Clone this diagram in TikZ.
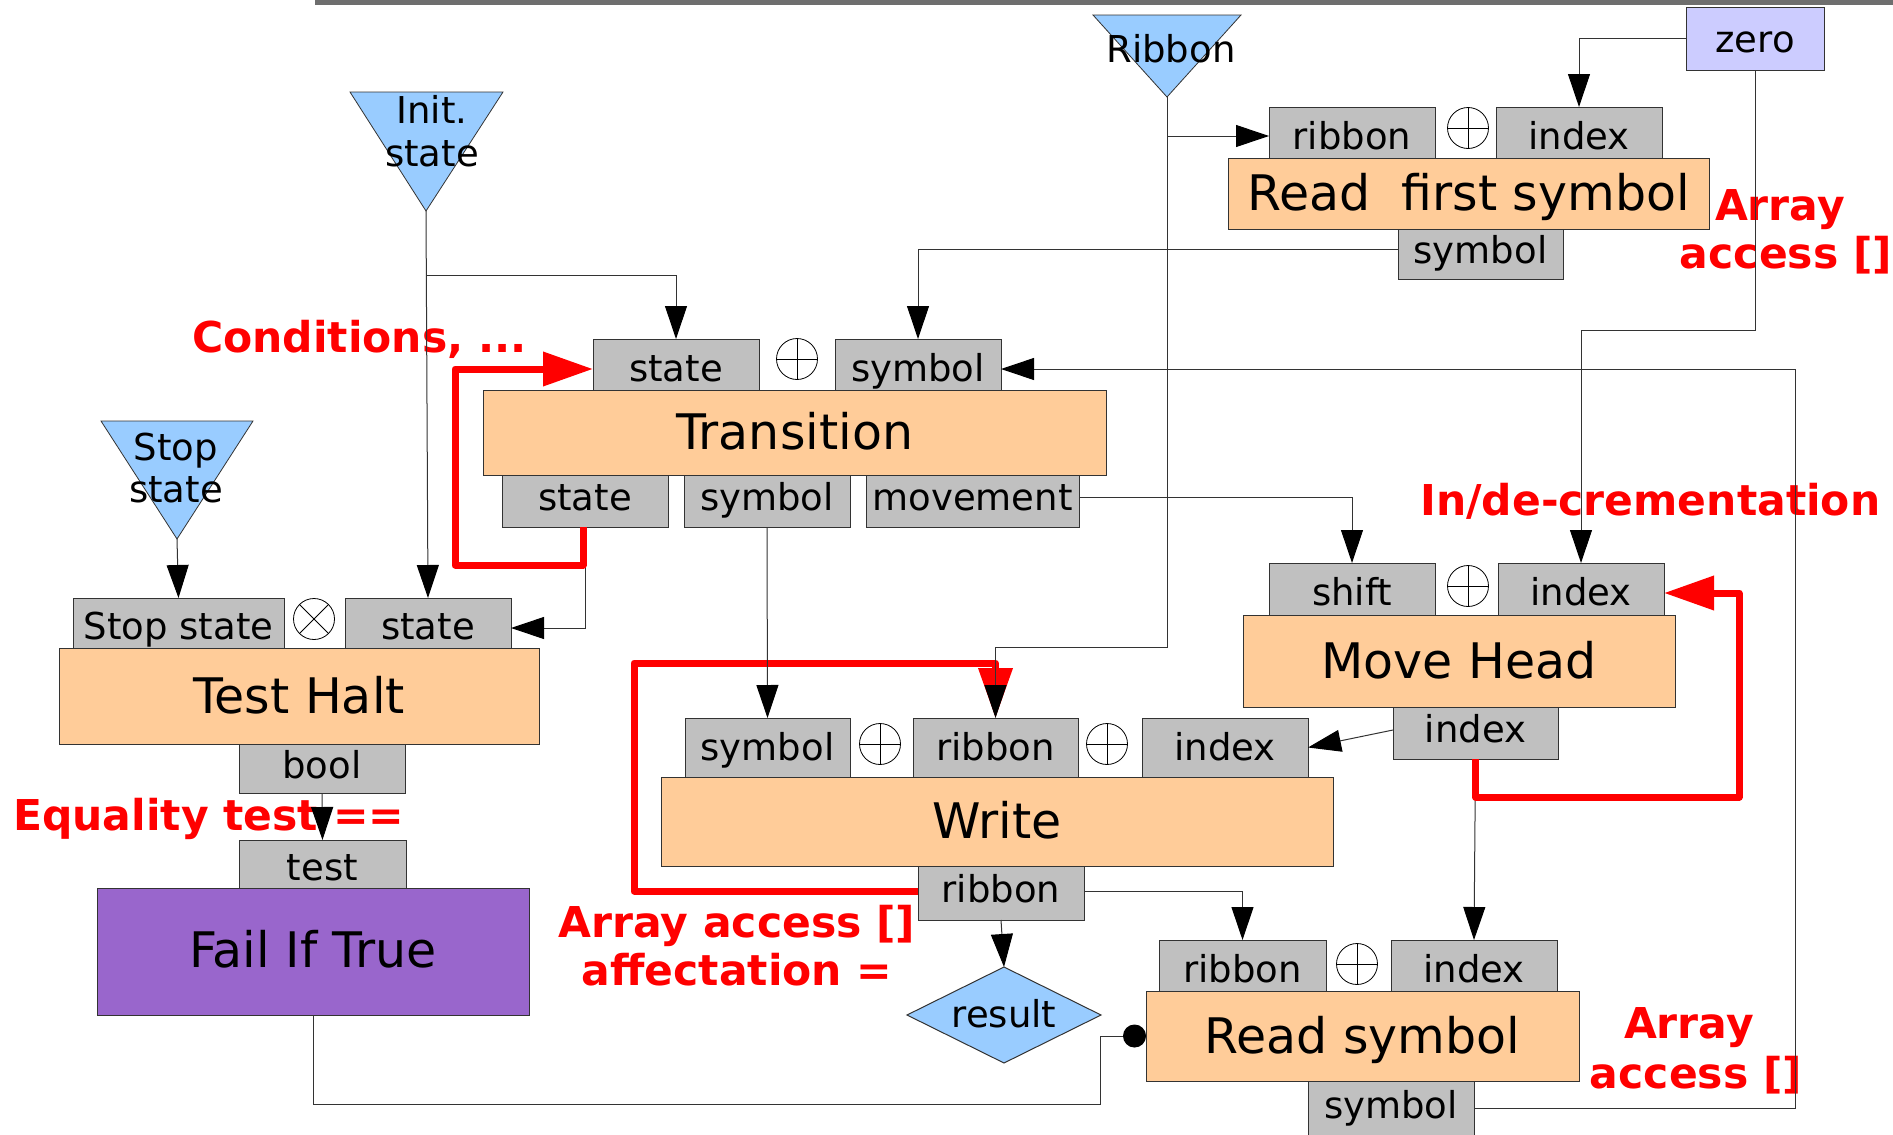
\documentclass[tikz,border=0pt]{standalone}
\usepackage{fontspec}
\setmainfont{DejaVu Sans}
\usetikzlibrary{arrows.meta}
\definecolor{portgray}{HTML}{C0C0C0}
\definecolor{boxorange}{HTML}{FFCC99}
\definecolor{triblue}{HTML}{99CCFF}
\definecolor{zerocol}{HTML}{CCCCFF}
\definecolor{failcol}{HTML}{9966CC}
\definecolor{linecol}{HTML}{333333}
\definecolor{barcol}{HTML}{6E6E6E}
\newcommand\portfont{\fontsize{37}{44}\selectfont}
\newcommand\titlefont{\fontsize{49}{56}\selectfont}
\newcommand\notefont{\fontsize{42.5}{48}\selectfont\bfseries}
\newcommand\mkn[7]{\node[#1, minimum width={#5-#3}, minimum height={#6-#4}] (#2) at ({(#3+#5)/2},{(#4+#6)/2}) {#7};}
\newcommand\opplus[2]{\draw[opc] (#1,#2) circle (20.5pt); \draw[line width=0.8pt] ({#1-20.5},#2) -- ({#1+20.5},#2) (#1,{#2-20.5}) -- (#1,{#2+20.5});}
\newcommand\optimes[2]{\draw[opc] (#1,#2) circle (20.5pt); \draw[line width=0.8pt] ({#1-14.5},{#2-14.5}) -- ({#1+14.5},{#2+14.5}) ({#1-14.5},{#2+14.5}) -- ({#1+14.5},{#2-14.5});}
\begin{document}
\begin{tikzpicture}[x=1pt,y=-1pt,
  port/.style={draw=linecol, line width=1pt, fill=portgray, inner sep=0pt, outer sep=0pt, text depth=0pt, font=\portfont},
  tport/.style={port, text height=33pt},
  wport/.style={port, text height=25pt},
  bport/.style={port, text height=19pt},
  zerobox/.style={port, fill=zerocol, text height=27pt},
  func/.style={draw=linecol, line width=1pt, fill=boxorange, inner sep=0pt, outer sep=0pt, text height=34pt, text depth=0pt, font=\titlefont},
  failbox/.style={func, fill=failcol, text height=31pt},
  conn/.style={draw=linecol, line width=1pt, -{Triangle[length=33pt,width=22pt,black]}},
  dotconn/.style={draw=linecol, line width=1pt, -{Circle[length=23pt,black]}},
  redloop/.style={draw=red, line width=7pt, line join=round, -{Triangle[length=50pt,width=33pt]}},
  note/.style={text=red, font=\notefont, inner sep=0pt},
  tri/.style={draw=linecol, line width=0.8pt, fill=triblue},
  ttext/.style={font=\portfont, inner sep=0pt, anchor=base},
  opc/.style={draw=black, line width=0.8pt, fill=white},
]
\useasboundingbox (0,0) rectangle (1893,1135);
\fill[barcol] (315,0) rectangle (1893,5);

% source triangles
\draw[tri] (350,92) -- (503,92) -- (426,211) -- cycle;
\coordinate (initA) at (426,211);
\node[ttext] (initT1) at (432,123) {Init.};
\node[ttext] (initT2) at (432,166) {state};
\draw[tri] (101,421) -- (253,421) -- (177,539) -- cycle;
\coordinate (stopA) at (177,539);
\node[ttext] (stopT1) at (176,460) {Stop};
\node[ttext] (stopT2) at (176,502) {state};
\draw[tri] (1093,15) -- (1241,15) -- (1167,97) -- cycle;
\coordinate (ribA) at (1167,97);
\node[ttext] (ribT) at (1171,62) {Ribbon};
\mkn{zerobox}{zero}{1686}{7}{1824}{70}{zero}

% Read first symbol
\mkn{tport}{rfsRib}{1269}{107}{1435}{158}{ribbon}
\mkn{tport}{rfsIdx}{1496}{107}{1662}{158}{index}
\mkn{func}{rfs}{1228}{158}{1709}{229}{Read~~first symbol}
\mkn{bport}{rfsSym}{1398}{229}{1563}{279}{symbol}
\opplus{1468}{128}

% Transition
\mkn{tport}{trState}{593}{339}{759}{390}{state}
\mkn{tport}{trSym}{835}{339}{1001}{390}{symbol}
\mkn{func}{tr}{483}{390}{1106}{475}{Transition}
\mkn{bport}{trStateOut}{502}{475}{668}{527}{state}
\mkn{bport}{trSymOut}{684}{475}{850}{527}{symbol}
\mkn{bport}{trMove}{866}{475}{1079}{527}{movement}
\opplus{797}{359}

% Test Halt
\mkn{tport}{thStop}{73}{598}{284}{648}{Stop state}
\mkn{tport}{thState}{345}{598}{511}{648}{state}
\mkn{func}{th}{59}{648}{539}{744}{Test Halt}
\mkn{bport}{thBool}{239}{744}{405}{793}{bool}
\optimes{314}{619}

% Fail If True
\mkn{tport}{fTest}{239}{840}{406}{888}{test}
\mkn{failbox}{fail}{97}{888}{529}{1015}{Fail If True}

% Move Head
\mkn{tport}{mhShift}{1269}{563}{1435}{615}{shift}
\mkn{tport}{mhIdx}{1498}{563}{1664}{615}{index}
\mkn{func}{mh}{1243}{615}{1675}{707}{Move Head}
\mkn{bport}{mhOut}{1393}{707}{1558}{759}{index}
\opplus{1468}{586}

% Write
\mkn{wport}{wSym}{685}{718}{850}{777}{symbol}
\mkn{wport}{wRib}{913}{718}{1078}{777}{ribbon}
\mkn{wport}{wIdx}{1142}{718}{1308}{777}{index}
\mkn{func}{w}{661}{777}{1333}{866}{Write}
\mkn{bport}{wOut}{918}{866}{1084}{920}{ribbon}
\opplus{880}{744}
\opplus{1107}{744}

% Read symbol
\mkn{tport}{rsRib}{1159}{940}{1326}{991}{ribbon}
\mkn{tport}{rsIdx}{1391}{940}{1557}{991}{index}
\mkn{func}{rs}{1146}{991}{1579}{1081}{Read symbol}
\mkn{bport}{rsOut}{1308}{1081}{1474}{1136}{symbol}
\opplus{1357}{964}

% result
\draw[fill=triblue, draw=linecol, line width=1pt] (907,1015) -- (1004,967) -- (1101,1015) -- (1004,1063) -- cycle;
\coordinate (resTop) at (1004,967);
\node[ttext] (result) at (1004,1027) {result};

% notes
\node[note, anchor=base west] (n1) at (192,352) {Conditions, ...};
\node[note, anchor=base] (n2a) at (1780,220) {Array};
\node[note, anchor=base] (n2b) at (1786,268) {access []};
\node[note, anchor=base west] (n3) at (1420,515) {In/de-crementation};
\node[note, anchor=base west] (n4) at (13,830) {Equality test ==};
\node[note, anchor=base] (n5a) at (737,937) {Array access []};
\node[note, anchor=base] (n5b) at (737,985) {affectation =};
\node[note, anchor=base] (n6a) at (1689,1038) {Array};
\node[note, anchor=base] (n6b) at (1696,1088) {access []};

% red loop under the ribbon arrow
\draw[redloop] ([yshift=2pt]wOut.west) -| (634,663) -| (wRib.north);

% connectors
\draw[conn] (zero.west) -| (rfsIdx.north);
\draw[conn] (ribA) -- (1167,647) -| (wRib.north);
\draw[conn] (1167,136) -- (rfsRib.west |- 1167,136);
\draw[conn] (initA) -- (thState.north);
\draw[conn] (426,275) -| (trState.north);
\draw[conn] (stopA) -- (thStop.north);
\draw[conn] ([yshift=5pt]rfsSym.west) -| (trSym.north);
\draw[conn] (trStateOut.south) |- ([yshift=-5pt]thState.east);
\draw[conn] (trSymOut.south) -- (wSym.north);
\draw[conn] ([yshift=4pt]trMove.east) -| (mhShift.north);
\draw[conn] (zero.south) -- (1755,330) -| (mhIdx.north);
\draw[conn] (rsOut.east) -| (1795,369) -- ([yshift=-4.5pt]trSym.east);
\draw[conn] ([yshift=3pt]mhOut.west) -- (wIdx.east);
\draw[conn] (mhOut.south) -- (rsIdx.north);
\draw[conn] (thBool.south) -- (fTest.north);
\draw[conn] (wOut.south) -- (resTop);
\draw[conn] ([yshift=2pt]wOut.east) -| (rsRib.north);
\draw[dotconn] (fail.south) |- (1100,1104) |- (rs.west);

% red loops
\draw[redloop] ([xshift=-2pt]trStateOut.south) |- (455,565) |- ([yshift=-4.5pt]trState.west);
\draw[redloop] (mhOut.south) |- (1739,797) |- ([yshift=-4pt]mhIdx.east);
\end{tikzpicture}
\end{document}
